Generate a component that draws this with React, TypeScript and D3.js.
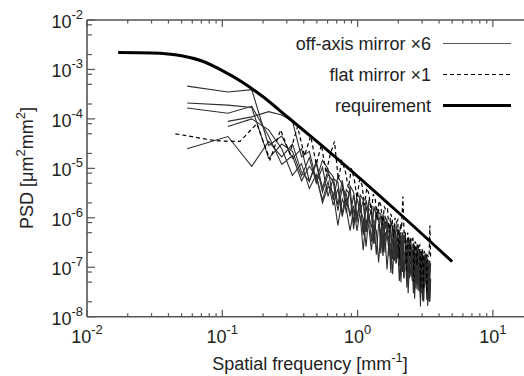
import React from "react";
import * as d3 from "d3";

// ---------- data ----------
const offAxisFreq = [0.055, 0.11, 0.165, 0.22, 0.275, 0.33, 0.385, 0.44, 0.495, 0.55, 0.605, 0.66, 0.715, 0.77, 0.825, 0.88, 0.935, 0.99, 1.045, 1.1, 1.155, 1.21, 1.265, 1.32, 1.375, 1.43, 1.485, 1.54, 1.595, 1.65, 1.705, 1.76, 1.815, 1.87, 1.925, 1.98, 2.035, 2.09, 2.145, 2.2, 2.255, 2.31, 2.365, 2.42, 2.475, 2.53, 2.585, 2.64, 2.695, 2.75, 2.805, 2.86, 2.915, 2.97, 3.025, 3.08, 3.135, 3.19, 3.245, 3.3, 3.355, 3.41, 3.465];

const offAxisA = [4.6e-4, 3.5e-4, 3.9e-4, 2.9e-5, 4.5e-5, 1.6e-5, 2.5e-5, 5.5e-6, 1.4e-5, 4e-6, 9.2e-6, 6.8e-6, 1.8e-6, 5.7e-6, 1.75e-6, 4e-6, 7.8e-7, 3.1e-6, 2.4e-6, 5.1e-7, 2.3e-6, 1.2e-6, 3.3e-7, 1.7e-6, 1.1e-6, 1.5e-6, 1.9e-7, 1.2e-6, 5.9e-7, 9e-7, 1.65e-7, 8.2e-7, 6.2e-7, 1.35e-7, 7.4e-7, 4.2e-7, 5.6e-7, 8.3e-8, 5.1e-7, 3.3e-7, 4.8e-7, 7.8e-8, 3.8e-7, 2.9e-7, 3.5e-7, 5.3e-8, 3e-7, 2.5e-7, 9.3e-8, 2.9e-7, 3.4e-8, 2.2e-7, 2e-7, 7.5e-8, 2.1e-7, 4e-8, 1.8e-7, 1.5e-7, 1.8e-7, 2.2e-8, 1.4e-7, 1.2e-7, 1.1e-7];
const offAxisB = [2.1e-4, 1.9e-4, 1.7e-4, 1.6e-5, 3.1e-5, 2.2e-5, 7e-6, 1.65e-5, 5e-6, 1.05e-5, 2.7e-6, 6.3e-6, 5.2e-6, 1.2e-6, 3.7e-6, 2.9e-6, 5.9e-7, 2.5e-6, 1.3e-6, 2.2e-6, 5.2e-7, 1.55e-6, 1.3e-6, 3e-7, 1.3e-6, 9.1e-7, 1.05e-6, 2.1e-7, 8.5e-7, 6.6e-7, 7.2e-7, 1.3e-7, 6.2e-7, 5e-7, 1.85e-7, 5.3e-7, 1.05e-7, 4.3e-7, 3.5e-7, 6e-8, 3.6e-7, 3.1e-7, 3e-7, 6e-8, 2.6e-7, 2.3e-7, 8e-8, 2.5e-7, 3.7e-8, 2.2e-7, 1.9e-7, 8e-8, 2e-7, 3e-8, 1.7e-7, 1.5e-7, 5.2e-8, 1.6e-7, 2.6e-8, 1.2e-7, 1.07e-7, 4.6e-8, 1.2e-7];
const offAxisC = [1.66e-4, 1.3e-4, 1.8e-4, 4.5e-5, 1.2e-5, 1.8e-5, 5.6e-6, 1.1e-5, 6.6e-6, 2.3e-6, 5.4e-6, 1.8e-6, 3.9e-6, 1.05e-6, 2.5e-6, 1.1e-6, 1.75e-6, 5.4e-7, 1.45e-6, 1e-6, 2.6e-7, 1.1e-6, 6.6e-7, 9e-7, 1.8e-7, 7.5e-7, 5.3e-7, 1.7e-7, 5.2e-7, 3.6e-7, 4.4e-7, 7.7e-8, 3.8e-7, 3.2e-7, 1.2e-7, 3e-7, 2.5e-7, 5e-8, 2.6e-7, 1.8e-7, 2.1e-7, 3.9e-8, 2e-7, 1.45e-7, 6.6e-8, 1.7e-7, 1.2e-7, 2.3e-8, 1.4e-7, 1.1e-7, 1.2e-7, 3.2e-8, 1.1e-7, 9e-8, 2.1e-8, 9.5e-8, 7.2e-8, 8.8e-8, 2.2e-8, 7.7e-8, 6.4e-8, 2e-8, 5.9e-8];
const offAxisD = [null, 8.9e-5, 1.1e-4, 1.4e-4, 1.2e-4, 9e-5, 1.7e-5, 2.2e-5, 5.8e-6, 1.45e-5, 9.7e-6, 2.3e-6, 6.7e-6, 4.8e-6, 1.25e-6, 4.4e-6, 3.3e-6, 8.1e-7, 2.9e-6, 2.3e-6, 5.2e-7, 2.2e-6, 1.75e-6, 4e-7, 1.65e-6, 1.25e-6, 1.2e-6, 2.4e-7, 1.1e-6, 8.4e-7, 1.9e-7, 8.7e-7, 6.7e-7, 6.8e-7, 1.2e-7, 6.1e-7, 4.9e-7, 5e-7, 9.6e-8, 4.5e-7, 3.9e-7, 1.05e-7, 4e-7, 3.4e-7, 2.9e-7, 6.3e-8, 3e-7, 2.7e-7, 2.4e-7, 5.4e-8, 2.4e-7, 2.1e-7, 1.6e-8, 2e-7, 1.8e-7, 1.6e-7, 3.9e-8, 1.75e-7, 1.55e-7, 1.3e-7, 3.2e-8, 1.3e-7, 1.3e-7];
const offAxisE = [null, 7e-5, 1.0e-4, 6e-5, 2.5e-5, 7.2e-6, 1.25e-5, 3.9e-6, 7.5e-6, 2e-6, 4.3e-6, 3.2e-6, 7e-7, 2.4e-6, 1.5e-6, 5.5e-7, 1.45e-6, 1.1e-6, 1.1e-6, 2.2e-7, 9.1e-7, 6.6e-7, 2.2e-7, 7e-7, 5.5e-7, 1.25e-7, 5.3e-7, 4.1e-7, 4.2e-7, 9e-8, 3.3e-7, 2.8e-7, 7.2e-8, 3.2e-7, 2.5e-7, 2.3e-7, 5.3e-8, 2e-7, 1.75e-7, 6e-8, 1.7e-7, 1.4e-7, 3e-8, 1.45e-7, 1.2e-7, 1.25e-7, 3e-8, 1.2e-7, 1e-7, 4.5e-8, 1e-7, 8.8e-8, 2.3e-8, 8.3e-8, 7.7e-8, 2e-8, 7.2e-8, 6.3e-8, 6.6e-8, 1.65e-8, 5.9e-8, 2e-8, 5.4e-8];
const offAxisF = [2.5e-5, 4.4e-5, 1.1e-5, 3.5e-5, 1.7e-5, 3.1e-5, 8.4e-6, 5.5e-6, 1.25e-5, 3.3e-6, 7.6e-6, 5.4e-6, 1.4e-6, 3.9e-6, 3e-6, 1.1e-6, 2.9e-6, 1.1e-6, 2.1e-6, 4.4e-7, 1.7e-6, 9.6e-7, 1.4e-6, 3e-7, 1.1e-6, 9.1e-7, 3.8e-7, 9e-7, 2e-7, 7.2e-7, 6e-7, 6.6e-7, 1.45e-7, 5.4e-7, 4.5e-7, 1.5e-7, 4.2e-7, 3.6e-7, 8e-8, 3.6e-7, 3.1e-7, 2.6e-7, 6.3e-8, 2.6e-7, 2.2e-7, 6.3e-8, 2.4e-7, 1.95e-7, 1.85e-7, 3.6e-8, 1.9e-7, 1.6e-7, 7.8e-8, 1.65e-7, 2.8e-8, 1.5e-7, 1.3e-7, 5e-8, 1.3e-7, 1.1e-7, 2.1e-8, 1e-7, 9.8e-8];

const flatFreq = [0.045, 0.09, 0.135, 0.18, 0.225, 0.27, 0.315, 0.36, 0.405, 0.45, 0.495, 0.54, 0.585, 0.63, 0.675, 0.72, 0.765, 0.81, 0.855, 0.9, 0.945, 0.99, 1.035, 1.08, 1.125, 1.17, 1.215, 1.26, 1.305, 1.35, 1.395, 1.44, 1.485, 1.53, 1.575, 1.62, 1.665, 1.71, 1.755, 1.8, 1.845, 1.89, 1.935, 1.98, 2.025, 2.07, 2.115, 2.16, 2.205, 2.25, 2.295, 2.34, 2.385, 2.43, 2.475, 2.52, 2.565, 2.61, 2.655, 2.7, 2.745, 2.79, 2.835, 2.88, 2.925, 2.97, 3.015, 3.06, 3.105, 3.15, 3.195, 3.24, 3.285, 3.33, 3.375, 3.42, 3.465];
const flatPsd = [5e-5, 3.6e-5, 3.5e-5, 8e-5, 1.5e-5, 6e-5, 2e-5, 7e-5, 1.8e-5, 4.5e-5, 1.2e-5, 3e-5, 8e-6, 2e-5, 3.5e-5, 6e-6, 1.4e-5, 9e-6, 4e-6, 1e-5, 6e-6, 2.5e-6, 6e-6, 4.5e-6, 1.8e-6, 4e-6, 3e-6, 1.2e-6, 3e-6, 2.4e-6, 9e-7, 2.2e-6, 1.8e-6, 7e-7, 1.7e-6, 1.4e-6, 1.5e-6, 5e-7, 1.2e-6, 1e-6, 4e-7, 1e-6, 8e-7, 9e-7, 1.5e-7, 7.5e-7, 6e-7, 2.7e-6, 5e-7, 5.5e-7, 8e-8, 5e-7, 4.2e-7, 1.6e-7, 4e-7, 3.6e-7, 3.8e-7, 5e-8, 3.3e-7, 3e-7, 1.1e-7, 3e-7, 2.6e-7, 2.8e-7, 4e-8, 2.4e-7, 2.2e-7, 3.5e-8, 2.1e-7, 1.9e-7, 2e-7, 3e-8, 1.8e-7, 1.6e-7, 1.7e-7, 7e-7, 1.5e-7];

const reqFreq = [0.017, 0.03, 0.05, 0.07, 0.1, 0.14, 0.2, 0.3, 0.5, 1, 2, 5];
const reqPsd = [2.2e-3, 2.15e-3, 1.9e-3, 1.5e-3, 9.5e-4, 5.6e-4, 2.8e-4, 1.12e-4, 3.5e-5, 6.9e-6, 1.28e-6, 1.3e-7];

const xMajorExp = [-2, -1, 0, 1];
const yMajorExp = [-8, -7, -6, -5, -4, -3, -2];
const xMinorMult = [2, 3, 4, 5, 6, 7, 8, 9];
const yMinorMult = [2, 5, 8];

const legendLabels = ["off-axis mirror \u00d76", "flat mirror \u00d71", "requirement"];

// ---------- layout ----------
const W = 524, H = 376;
const X0 = 87, Y0 = 20, Y1 = 316.7;
const DEC = 135.3;
const FONT = "'Liberation Sans', Arial, Helvetica, sans-serif";
const AXIS = "#555";
const FS = 18;
const SUP = 13;

const x = d3.scaleLog().domain([0.01, 10]).range([X0, X0 + 3 * DEC]);
const y = d3.scaleLog().domain([1e-8, 1e-2]).range([Y1, Y0]);

type Pt = [number, number | null];
const line = d3
  .line<Pt>()
  .defined((d) => d[1] != null)
  .x((d) => x(d[0]))
  .y((d) => y(d[1] as number));
const smooth = d3
  .line<[number, number]>()
  .x((d) => x(d[0]))
  .y((d) => y(d[1]))
  .curve(d3.curveMonotoneX);

const offAxisSeries = [offAxisA, offAxisB, offAxisC, offAxisD, offAxisE, offAxisF];

export default function App() {
  const xTicksMinor: number[] = [];
  for (let e = -2; e <= 1; e++) for (const m of xMinorMult) xTicksMinor.push(m * Math.pow(10, e));
  const yTicksMinor: number[] = [];
  for (let e = -8; e < -2; e++) for (const m of yMinorMult) yTicksMinor.push(m * Math.pow(10, e));

  return (
    <svg
      width={W}
      height={H}
      style={{ position: "absolute", left: 0, top: 0, background: "#fff" }}
      fontFamily={FONT}
    >
      <defs>
        <clipPath id="plot">
          <rect x={X0} y={Y0} width={W - X0} height={Y1 - Y0} />
        </clipPath>
      </defs>

      {/* data */}
      <g clipPath="url(#plot)" fill="none" strokeLinejoin="miter">
        {offAxisSeries.map((s, i) => (
          <path
            key={i}
            d={line(offAxisFreq.map((f, k) => [f, s[k]] as Pt)) || ""}
            stroke="#2e2e2e"
            strokeWidth={1.1}
          />
        ))}
        <path
          d={line(flatFreq.map((f, k) => [f, flatPsd[k]] as Pt)) || ""}
          stroke="#000"
          strokeWidth={1.2}
          strokeDasharray="4,3"
        />
        <path
          d={smooth(reqFreq.map((f, k) => [f, reqPsd[k]] as [number, number])) || ""}
          stroke="#000"
          strokeWidth={3}
        />
      </g>

      {/* axes */}
      <g stroke={AXIS} strokeWidth={1.6} fill="none">
        <line x1={X0} y1={Y0} x2={W} y2={Y0} />
        <line x1={X0} y1={Y1} x2={W} y2={Y1} />
        <line x1={X0} y1={Y0} x2={X0} y2={Y1} />
      </g>
      <g stroke={AXIS} strokeWidth={1.2}>
        {xMajorExp.map((e) => {
          const px = x(Math.pow(10, e));
          return (
            <g key={"xM" + e}>
              <line x1={px} x2={px} y1={Y1} y2={Y1 - 7} />
              <line x1={px} x2={px} y1={Y0} y2={Y0 + 7} />
            </g>
          );
        })}
        {xTicksMinor.map((v, i) => {
          const px = x(v);
          if (px > W) return null;
          return (
            <g key={"xm" + i}>
              <line x1={px} x2={px} y1={Y1} y2={Y1 - 3.5} />
              <line x1={px} x2={px} y1={Y0} y2={Y0 + 3.5} />
            </g>
          );
        })}
        {yMajorExp.map((e) => {
          const py = y(Math.pow(10, e));
          return <line key={"yM" + e} x1={X0} x2={X0 + 8} y1={py} y2={py} />;
        })}
        {yTicksMinor.map((v, i) => {
          const py = y(v);
          return <line key={"ym" + i} x1={X0} x2={X0 + 5} y1={py} y2={py} />;
        })}
      </g>

      {/* tick labels */}
      <g fill="#222" fontSize={FS}>
        {yMajorExp.map((e) => (
          <text key={"yl" + e} x={X0 - 4} y={y(Math.pow(10, e)) + 8} textAnchor="end">
            10
            <tspan fontSize={SUP} dy={-9}>
              {String(e)}
            </tspan>
          </text>
        ))}
        {xMajorExp.map((e) => (
          <text key={"xl" + e} x={x(Math.pow(10, e))} y={343} textAnchor="middle">
            10
            <tspan fontSize={SUP} dy={-9}>
              {String(e)}
            </tspan>
          </text>
        ))}
      </g>

      {/* axis titles */}
      <text x={310} y={370} textAnchor="middle" fontSize={FS} fill="#222">
        {"Spatial frequency [mm"}
        <tspan fontSize={SUP} dy={-8}>
          {"-1"}
        </tspan>
        <tspan dy={8}>{"]"}</tspan>
      </text>
      <text
        transform={`translate(33,168) rotate(-90)`}
        textAnchor="middle"
        fontSize={FS}
        fill="#222"
      >
        {"PSD [\u03bcm"}
        <tspan fontSize={SUP} dy={-8}>
          {"2"}
        </tspan>
        <tspan dy={8}>{"mm"}</tspan>
        <tspan fontSize={SUP} dy={-8}>
          {"2"}
        </tspan>
        <tspan dy={8}>{"]"}</tspan>
      </text>

      {/* legend */}
      <g fontSize={FS} fill="#222">
        {legendLabels.map((lab, i) => {
          const ly = 43.5 + i * 31;
          return (
            <g key={lab}>
              <text x={431} y={ly + 6} textAnchor="end">
                {lab}
              </text>
              <line
                x1={443}
                x2={511}
                y1={ly}
                y2={ly}
                stroke={i === 0 ? "#555" : "#000"}
                strokeWidth={i === 2 ? 3 : 1.1}
                strokeDasharray={i === 1 ? "4,3" : undefined}
              />
            </g>
          );
        })}
      </g>
    </svg>
  );
}
